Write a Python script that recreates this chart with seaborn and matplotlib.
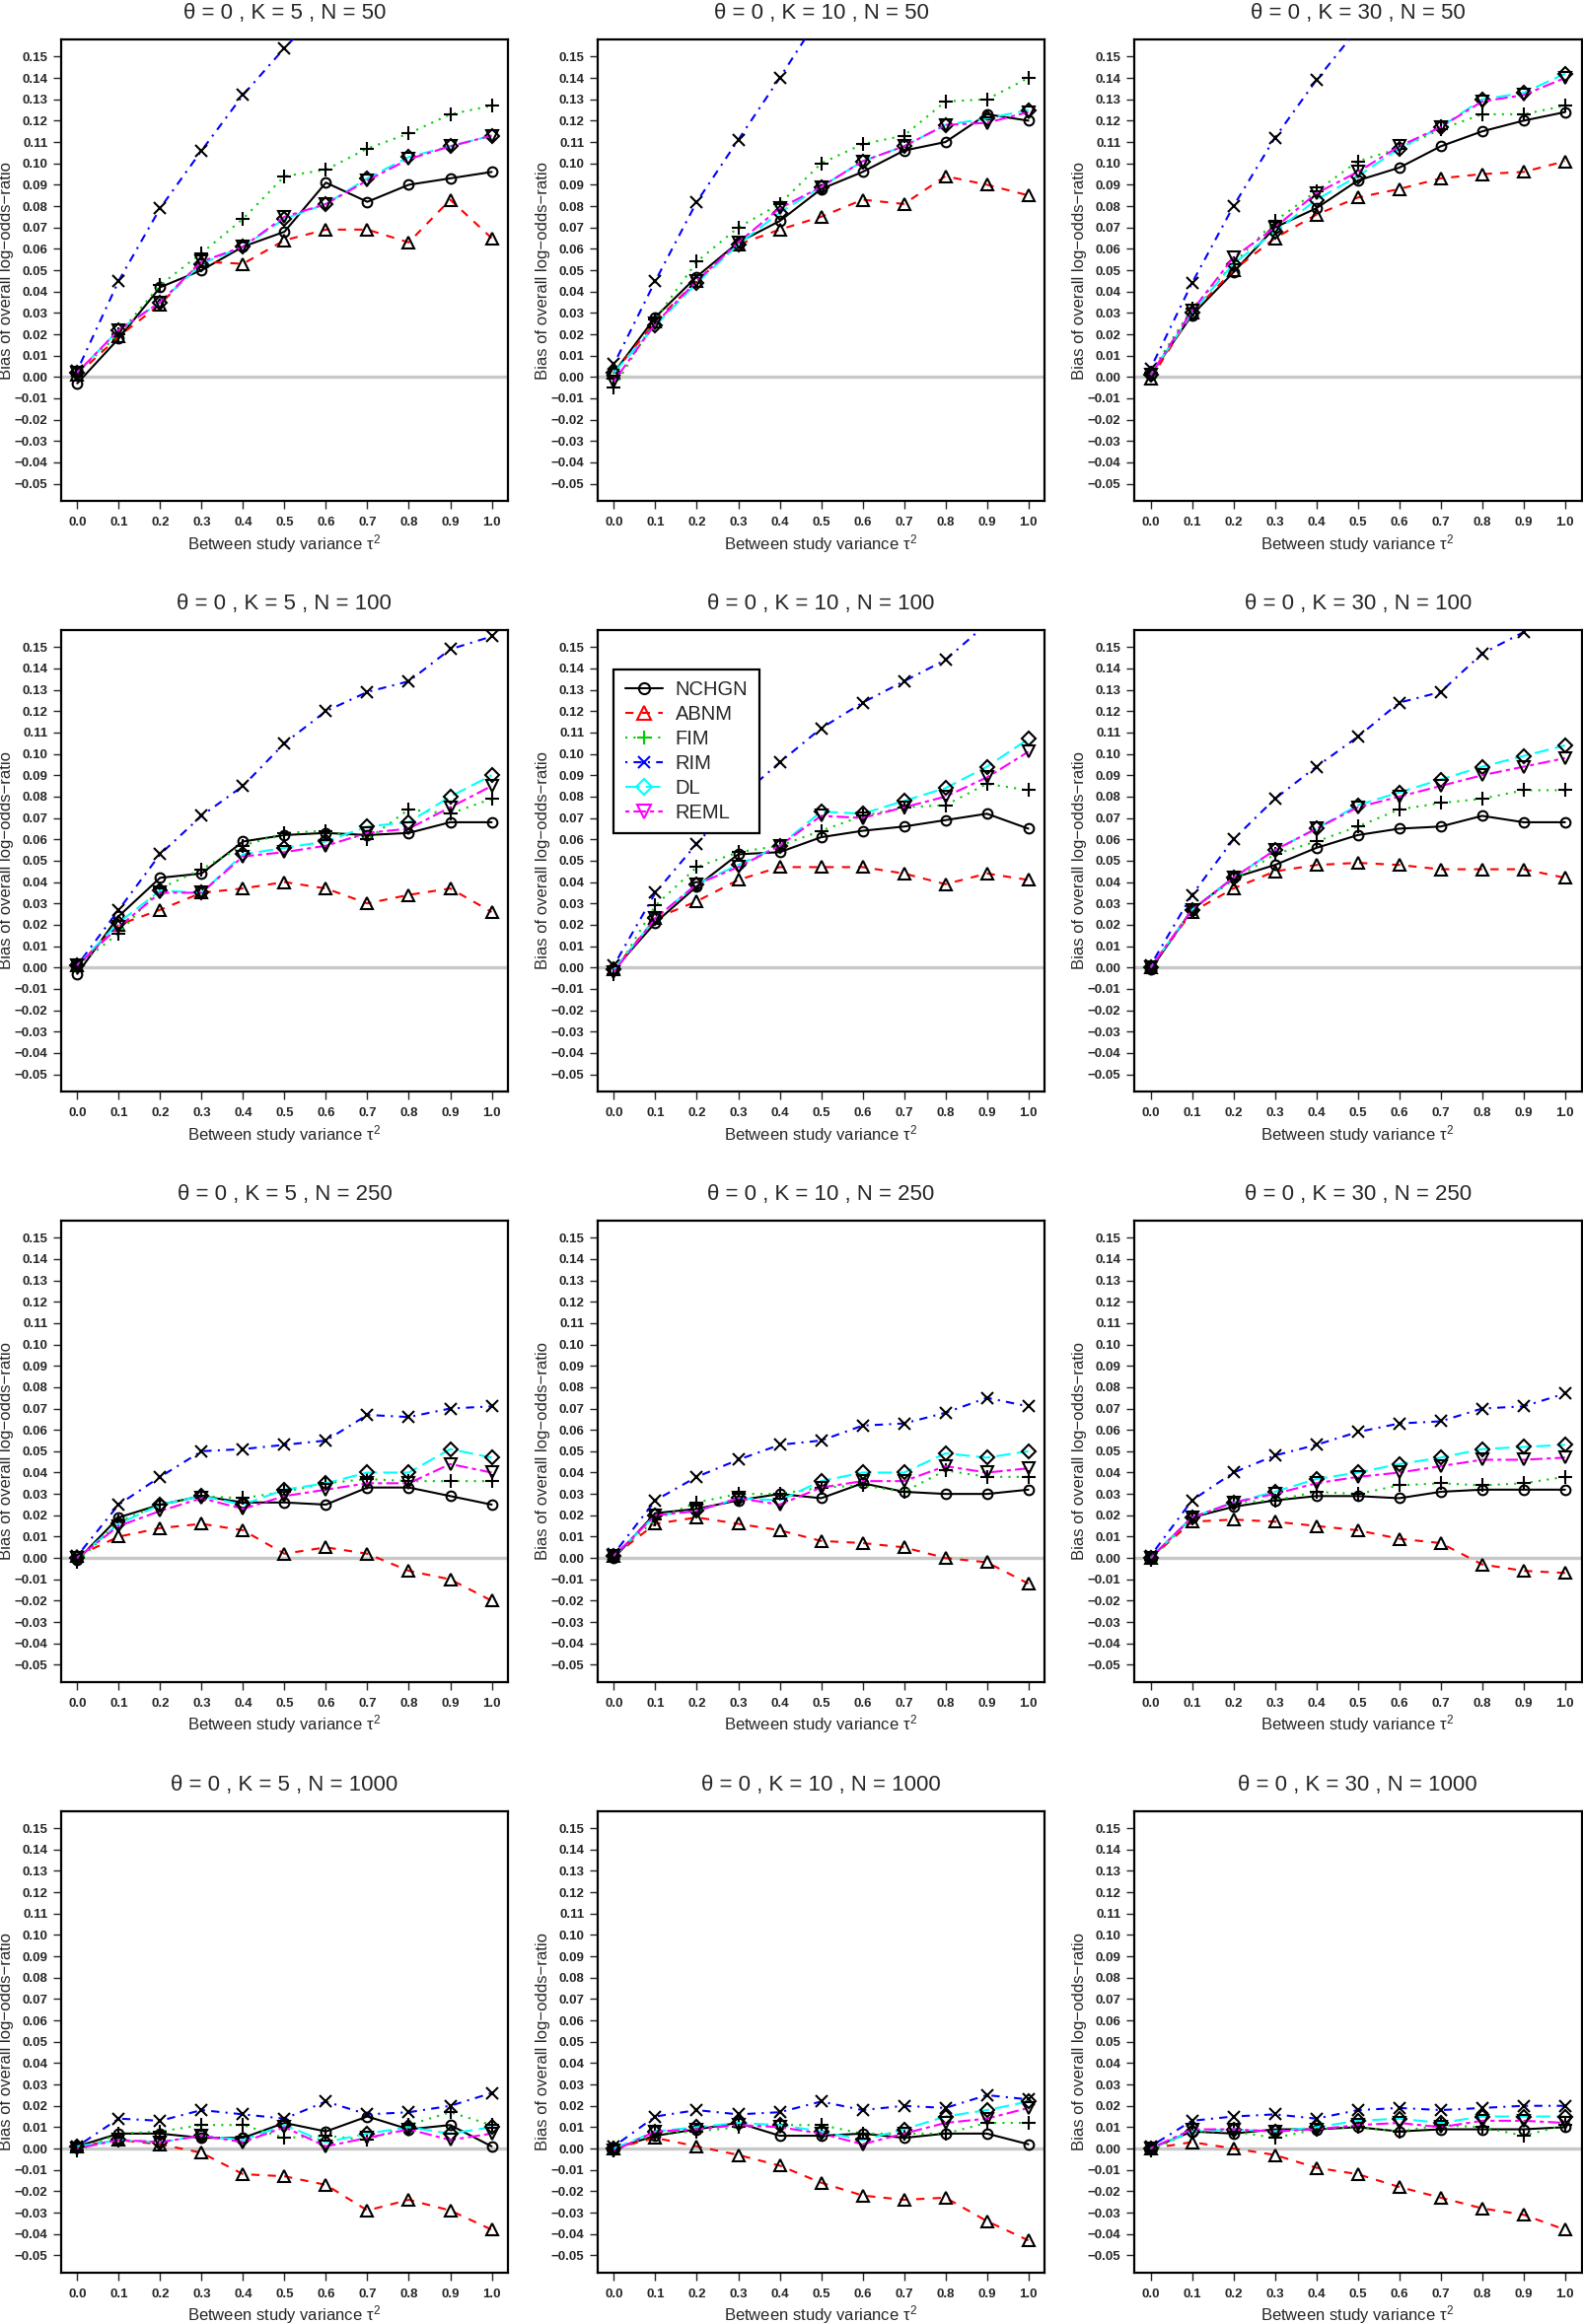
import matplotlib
matplotlib.use('Agg')
import matplotlib.pyplot as plt
import seaborn as sns
import pandas as pd
from matplotlib.lines import Line2D
from matplotlib.ticker import FuncFormatter, MultipleLocator

# x axis: between study variance tau^2
tau2 = [0.0, 0.1, 0.2, 0.3, 0.4, 0.5, 0.6, 0.7, 0.8, 0.9, 1.0]

# panel grid: rows = N, columns = K
k_values = [5, 10, 30]
n_values = [50, 100, 250, 1000]

# bias values per method, one row per panel (N=50: K5, K10, K30; N=100: ...)
nchgn = [
    [-0.003, 0.018, 0.042, 0.050, 0.061, 0.068, 0.091, 0.082, 0.090, 0.093, 0.096],
    [0.002, 0.028, 0.047, 0.063, 0.073, 0.088, 0.096, 0.106, 0.110, 0.123, 0.120],
    [0.001, 0.029, 0.049, 0.070, 0.079, 0.092, 0.098, 0.108, 0.115, 0.120, 0.124],
    [-0.003, 0.024, 0.042, 0.044, 0.059, 0.062, 0.063, 0.062, 0.063, 0.068, 0.068],
    [-0.001, 0.021, 0.038, 0.053, 0.054, 0.061, 0.064, 0.066, 0.069, 0.072, 0.065],
    [-0.001, 0.027, 0.042, 0.048, 0.056, 0.062, 0.065, 0.066, 0.071, 0.068, 0.068],
    [-0.001, 0.019, 0.025, 0.029, 0.026, 0.026, 0.025, 0.033, 0.033, 0.029, 0.025],
    [0.000, 0.021, 0.023, 0.027, 0.030, 0.028, 0.035, 0.031, 0.030, 0.030, 0.032],
    [0.000, 0.019, 0.024, 0.027, 0.029, 0.029, 0.028, 0.031, 0.032, 0.032, 0.032],
    [0.001, 0.007, 0.007, 0.005, 0.005, 0.012, 0.008, 0.015, 0.009, 0.011, 0.001],
    [0.000, 0.006, 0.009, 0.012, 0.006, 0.006, 0.007, 0.005, 0.007, 0.007, 0.002],
    [0.000, 0.008, 0.007, 0.009, 0.009, 0.010, 0.008, 0.009, 0.009, 0.009, 0.010],
]
abnm = [
    [0.001, 0.019, 0.034, 0.054, 0.053, 0.064, 0.069, 0.069, 0.063, 0.083, 0.065],
    [0.002, 0.026, 0.045, 0.062, 0.069, 0.075, 0.083, 0.081, 0.094, 0.090, 0.085],
    [-0.001, 0.030, 0.050, 0.065, 0.076, 0.084, 0.088, 0.093, 0.095, 0.096, 0.101],
    [0.001, 0.020, 0.027, 0.035, 0.037, 0.040, 0.037, 0.030, 0.034, 0.037, 0.026],
    [-0.001, 0.023, 0.031, 0.041, 0.047, 0.047, 0.047, 0.044, 0.039, 0.044, 0.041],
    [0.000, 0.026, 0.037, 0.045, 0.048, 0.049, 0.048, 0.046, 0.046, 0.046, 0.042],
    [0.001, 0.010, 0.014, 0.016, 0.013, 0.002, 0.005, 0.002, -0.006, -0.010, -0.020],
    [0.001, 0.016, 0.019, 0.016, 0.013, 0.008, 0.007, 0.005, 0.000, -0.002, -0.012],
    [0.000, 0.017, 0.018, 0.017, 0.015, 0.013, 0.009, 0.007, -0.003, -0.006, -0.007],
    [0.001, 0.004, 0.002, -0.002, -0.012, -0.013, -0.017, -0.029, -0.024, -0.029, -0.038],
    [0.000, 0.005, 0.001, -0.003, -0.008, -0.016, -0.022, -0.024, -0.023, -0.034, -0.043],
    [0.000, 0.003, 0.000, -0.003, -0.009, -0.012, -0.018, -0.023, -0.028, -0.031, -0.038],
]
fim = [
    [0.002, 0.020, 0.043, 0.058, 0.074, 0.094, 0.097, 0.107, 0.114, 0.123, 0.127],
    [-0.005, 0.027, 0.054, 0.070, 0.081, 0.100, 0.109, 0.113, 0.129, 0.130, 0.140],
    [0.002, 0.032, 0.053, 0.073, 0.087, 0.101, 0.107, 0.116, 0.123, 0.123, 0.127],
    [0.001, 0.016, 0.037, 0.046, 0.057, 0.063, 0.064, 0.060, 0.074, 0.072, 0.079],
    [-0.003, 0.029, 0.047, 0.054, 0.057, 0.064, 0.071, 0.075, 0.076, 0.086, 0.083],
    [0.000, 0.027, 0.041, 0.053, 0.059, 0.066, 0.074, 0.077, 0.079, 0.083, 0.083],
    [-0.002, 0.017, 0.025, 0.029, 0.028, 0.031, 0.035, 0.037, 0.036, 0.036, 0.036],
    [0.001, 0.018, 0.026, 0.030, 0.030, 0.033, 0.034, 0.031, 0.041, 0.038, 0.038],
    [-0.001, 0.019, 0.026, 0.027, 0.031, 0.030, 0.034, 0.035, 0.034, 0.035, 0.038],
    [-0.001, 0.007, 0.008, 0.011, 0.011, 0.005, 0.006, 0.004, 0.011, 0.017, 0.011],
    [-0.001, 0.007, 0.008, 0.010, 0.011, 0.011, 0.007, 0.007, 0.007, 0.012, 0.012],
    [-0.001, 0.008, 0.008, 0.005, 0.009, 0.010, 0.008, 0.011, 0.010, 0.006, 0.011],
]
rim = [
    [0.003, 0.045, 0.079, 0.106, 0.132, 0.154, 0.174, 0.192, 0.208, 0.222, 0.236],
    [0.006, 0.045, 0.082, 0.111, 0.140, 0.170, 0.195, 0.215, 0.235, 0.250, 0.265],
    [0.004, 0.044, 0.080, 0.112, 0.139, 0.163, 0.185, 0.205, 0.222, 0.238, 0.252],
    [0.001, 0.027, 0.053, 0.071, 0.085, 0.105, 0.120, 0.129, 0.134, 0.149, 0.155],
    [0.001, 0.035, 0.058, 0.079, 0.096, 0.112, 0.124, 0.134, 0.144, 0.161, 0.178],
    [0.001, 0.034, 0.060, 0.079, 0.094, 0.108, 0.124, 0.129, 0.147, 0.157, 0.170],
    [0.001, 0.025, 0.038, 0.050, 0.051, 0.053, 0.055, 0.067, 0.066, 0.070, 0.071],
    [0.002, 0.027, 0.038, 0.046, 0.053, 0.055, 0.062, 0.063, 0.068, 0.075, 0.071],
    [0.001, 0.027, 0.040, 0.048, 0.053, 0.059, 0.063, 0.064, 0.070, 0.071, 0.077],
    [0.001, 0.014, 0.013, 0.018, 0.016, 0.014, 0.022, 0.016, 0.017, 0.020, 0.026],
    [0.001, 0.015, 0.018, 0.016, 0.017, 0.022, 0.018, 0.020, 0.019, 0.025, 0.023],
    [0.001, 0.013, 0.015, 0.016, 0.014, 0.018, 0.019, 0.018, 0.019, 0.020, 0.020],
]
dl = [
    [0.002, 0.022, 0.035, 0.053, 0.061, 0.074, 0.081, 0.093, 0.103, 0.108, 0.113],
    [0.002, 0.024, 0.044, 0.062, 0.077, 0.089, 0.101, 0.108, 0.118, 0.121, 0.125],
    [0.001, 0.030, 0.053, 0.068, 0.083, 0.094, 0.107, 0.117, 0.130, 0.133, 0.142],
    [0.001, 0.021, 0.036, 0.035, 0.053, 0.056, 0.059, 0.066, 0.068, 0.080, 0.090],
    [-0.001, 0.023, 0.039, 0.048, 0.057, 0.073, 0.072, 0.078, 0.084, 0.094, 0.107],
    [0.000, 0.027, 0.042, 0.055, 0.065, 0.076, 0.082, 0.088, 0.094, 0.099, 0.104],
    [0.000, 0.016, 0.025, 0.029, 0.025, 0.032, 0.035, 0.040, 0.040, 0.051, 0.047],
    [0.001, 0.020, 0.022, 0.028, 0.027, 0.036, 0.040, 0.040, 0.049, 0.047, 0.050],
    [0.000, 0.019, 0.026, 0.031, 0.037, 0.040, 0.044, 0.047, 0.051, 0.052, 0.053],
    [0.001, 0.004, 0.003, 0.006, 0.004, 0.011, 0.003, 0.007, 0.010, 0.007, 0.010],
    [0.000, 0.008, 0.010, 0.012, 0.011, 0.008, 0.004, 0.009, 0.015, 0.018, 0.022],
    [0.000, 0.008, 0.009, 0.008, 0.010, 0.013, 0.014, 0.012, 0.015, 0.015, 0.015],
]
reml = [
    [0.002, 0.022, 0.035, 0.054, 0.061, 0.075, 0.081, 0.092, 0.102, 0.108, 0.113],
    [-0.002, 0.025, 0.045, 0.063, 0.079, 0.089, 0.101, 0.108, 0.118, 0.119, 0.124],
    [0.001, 0.031, 0.056, 0.070, 0.086, 0.096, 0.108, 0.117, 0.129, 0.132, 0.140],
    [0.001, 0.019, 0.035, 0.035, 0.052, 0.054, 0.057, 0.063, 0.065, 0.075, 0.085],
    [-0.002, 0.023, 0.039, 0.047, 0.057, 0.071, 0.070, 0.075, 0.080, 0.089, 0.101],
    [0.000, 0.027, 0.042, 0.055, 0.065, 0.075, 0.080, 0.085, 0.090, 0.094, 0.098],
    [0.000, 0.015, 0.022, 0.028, 0.023, 0.029, 0.032, 0.035, 0.035, 0.044, 0.040],
    [0.001, 0.020, 0.022, 0.028, 0.025, 0.033, 0.036, 0.036, 0.043, 0.040, 0.042],
    [0.000, 0.019, 0.026, 0.030, 0.035, 0.038, 0.040, 0.043, 0.046, 0.046, 0.047],
    [0.000, 0.004, 0.003, 0.006, 0.003, 0.010, 0.001, 0.005, 0.009, 0.004, 0.007],
    [-0.001, 0.008, 0.009, 0.011, 0.010, 0.007, 0.002, 0.007, 0.012, 0.014, 0.019],
    [0.000, 0.009, 0.009, 0.008, 0.009, 0.011, 0.012, 0.010, 0.013, 0.013, 0.012],
]

methods = ['NCHGN', 'ABNM', 'FIM', 'RIM', 'DL', 'REML']
method_data = [nchgn, abnm, fim, rim, dl, reml]

# R-like styles: colour, line type, plotting symbol
colors = ['black', 'red', '#00CD00', 'blue', 'cyan', 'magenta']
linestyles = ['-', (0, (4, 4)), (0, (1, 3)), (0, (1, 3, 4, 3)), (0, (7, 3)), (0, (2, 2, 6, 2))]
markers = ['o', '^', '+', 'x', 'D', 'v']
marker_sizes = [7, 8.5, 9.5, 8, 7.5, 8.5]

sns.set_style('white')
plt.rcParams['font.family'] = ['Liberation Sans', 'DejaVu Sans']
plt.rcParams['mathtext.fontset'] = 'custom'
plt.rcParams['mathtext.rm'] = 'Liberation Sans'
plt.rcParams['mathtext.it'] = 'Liberation Sans'
plt.rcParams['mathtext.bf'] = 'Liberation Sans:bold'


def fmt(decimals):
    return FuncFormatter(lambda v, _: f"{v:.{decimals}f}".replace('-', '\u2212'))


def draw_panel(ax, idx, k, n):
    """Draw one simulation panel."""
    ax.axhline(0, color='#c8c8c8', linewidth=2.4, zorder=1)
    for m, name in enumerate(methods):
        df = pd.DataFrame({'tau2': tau2, 'bias': method_data[m][idx]})
        sns.lineplot(data=df, x='tau2', y='bias', ax=ax, color=colors[m],
                     linestyle=linestyles[m], linewidth=1.5, marker=markers[m],
                     markersize=marker_sizes[m], markeredgecolor='black',
                     markerfacecolor='none', markeredgewidth=1.5,
                     legend=False, zorder=3)

    ax.set_xlim(-0.04, 1.04)
    ax.set_ylim(-0.058, 0.158)
    ax.xaxis.set_major_locator(MultipleLocator(0.1))
    ax.set_yticks([i / 100 for i in range(-5, 16)])
    ax.xaxis.set_major_formatter(fmt(1))
    ax.yaxis.set_major_formatter(fmt(2))
    ax.tick_params(axis='y', direction='out', length=6, width=1, pad=3.5,
                   labelsize=9.5, left=True)
    ax.tick_params(axis='x', direction='out', length=5.5, width=1, pad=6,
                   labelsize=9.5, bottom=True)
    for lab in ax.get_xticklabels() + ax.get_yticklabels():
        lab.set_fontweight('bold')
    for sp in ax.spines.values():
        sp.set_color('black')
        sp.set_linewidth(1.6)

    ax.set_title(f"\u03b8 = 0 , K = {k} , N = {n}", fontsize=16, pad=15)
    ax.set_xlabel(r'Between study variance $\tau^2$', fontsize=12)
    ax.set_ylabel('Bias of overall log\u2212odds\u2212ratio', fontsize=12)
    ax.xaxis.set_label_coords(0.5, -0.068)
    ax.yaxis.set_label_coords(-0.105, 0.5)


fig, axes = plt.subplots(4, 3, figsize=(16.06, 23.57), dpi=100)
fig.subplots_adjust(left=0.0383, right=0.9985, top=0.983, bottom=0.0222,
                    wspace=0.199, hspace=0.28)

for r, n in enumerate(n_values):
    for c, k in enumerate(k_values):
        draw_panel(axes[r][c], r * 3 + c, k, n)

# legend sits in the K = 10, N = 100 panel, markers drawn in series colour
handles = [Line2D([0], [0], color=colors[m], linestyle=linestyles[m], linewidth=1.5,
                  marker=markers[m], markersize=marker_sizes[m] + 1,
                  markeredgecolor=colors[m], markerfacecolor='none',
                  markeredgewidth=1.5)
           for m in range(len(methods))]
leg = axes[1][1].legend(handles, methods, loc='upper left',
                        bbox_to_anchor=(0.037, 0.9145), borderaxespad=0,
                        fontsize=14.5, handlelength=1.9, handletextpad=0.65,
                        labelspacing=0.3, borderpad=0.55, fancybox=False,
                        framealpha=1, edgecolor='black')
leg.get_frame().set_linewidth(1.6)

plt.savefig('out.png', dpi=100)
plt.close()
